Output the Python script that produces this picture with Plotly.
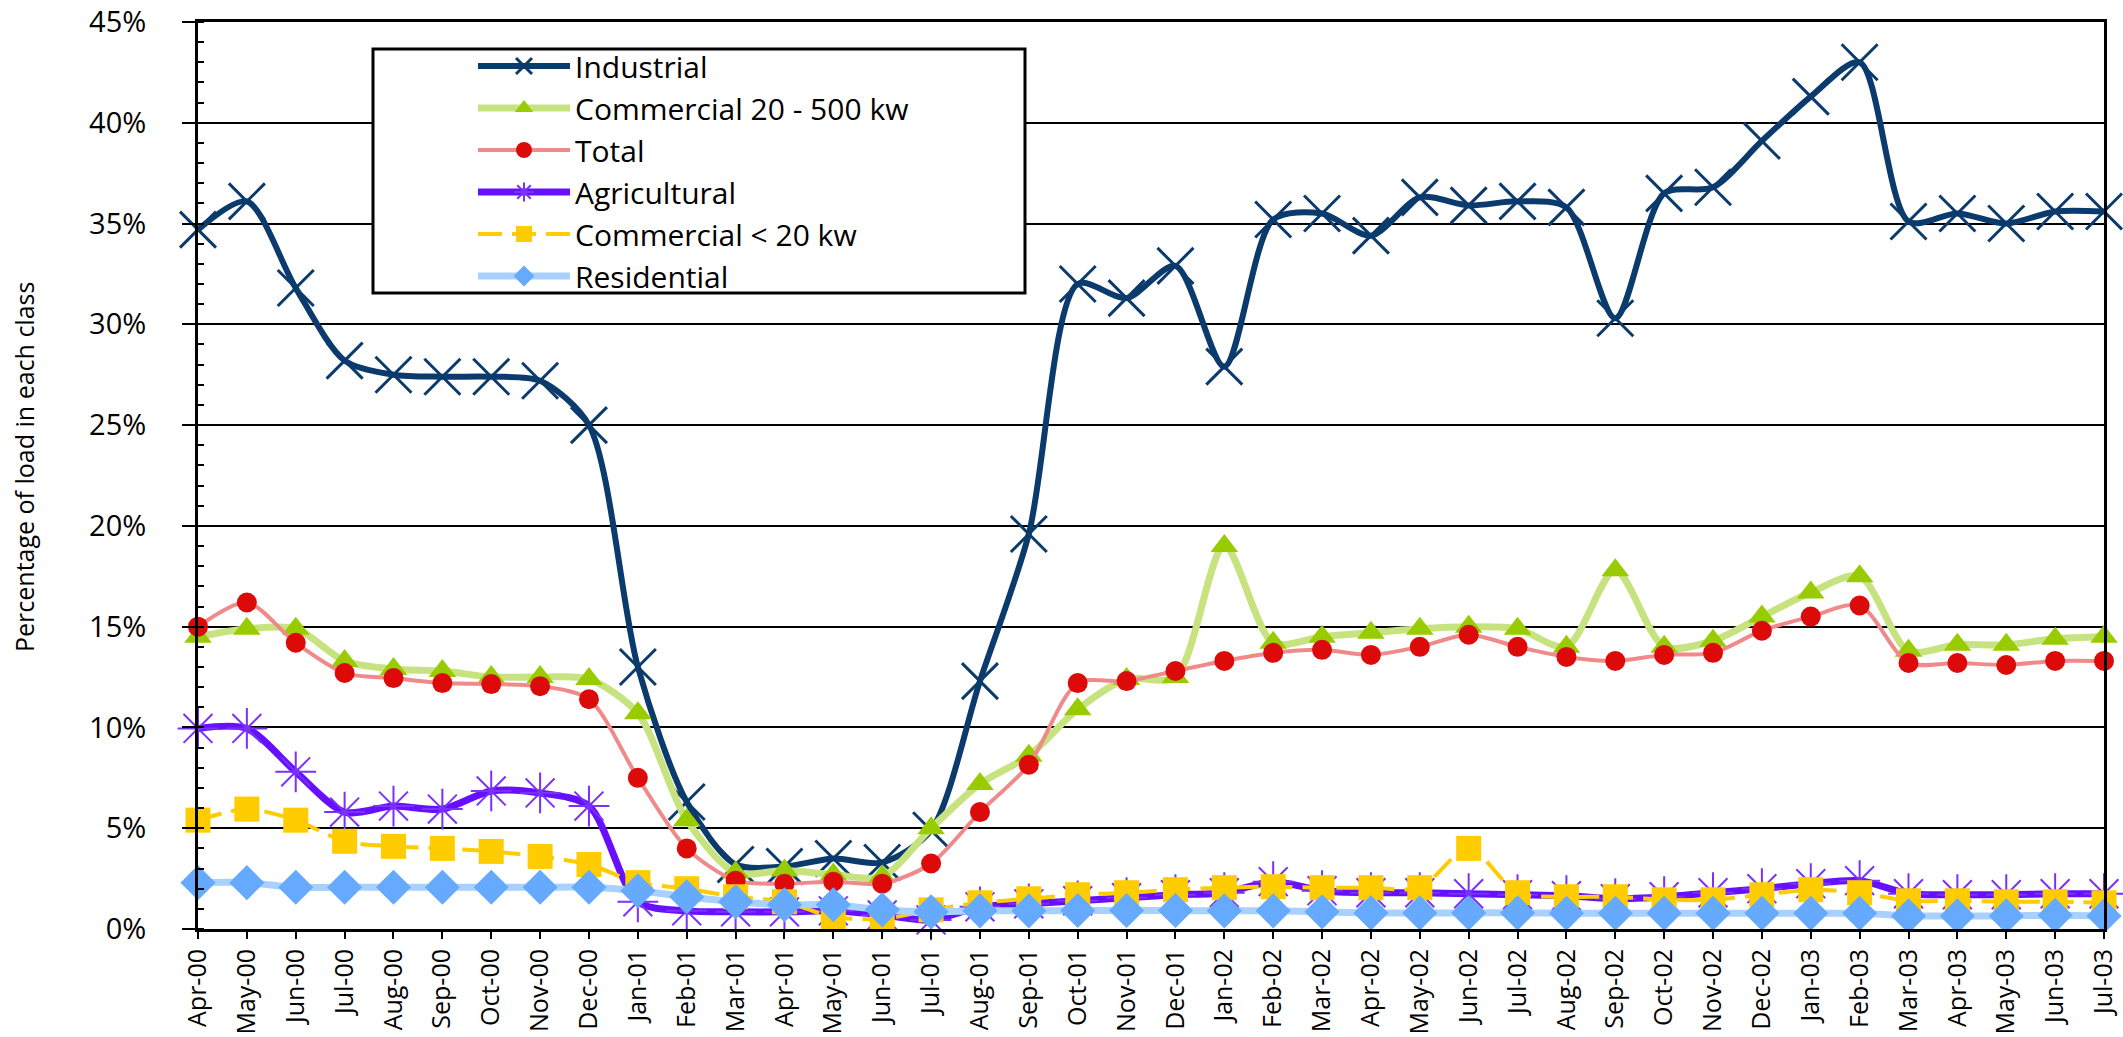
import plotly.graph_objects as go

months = ["Apr-00","May-00","Jun-00","Jul-00","Aug-00","Sep-00","Oct-00","Nov-00","Dec-00",
          "Jan-01","Feb-01","Mar-01","Apr-01","May-01","Jun-01","Jul-01","Aug-01","Sep-01","Oct-01","Nov-01","Dec-01",
          "Jan-02","Feb-02","Mar-02","Apr-02","May-02","Jun-02","Jul-02","Aug-02","Sep-02","Oct-02","Nov-02","Dec-02",
          "Jan-03","Feb-03","Mar-03","Apr-03","May-03","Jun-03","Jul-03"]

industrial = [34.7, 36.1, 31.8, 28.2, 27.5, 27.4, 27.4, 27.2, 25.0,
              13.0, 6.3, 3.2, 3.1, 3.5, 3.3, 4.9, 12.3, 19.6, 32.0, 31.3, 32.9,
              27.9, 35.2, 35.5, 34.4, 36.3, 35.9, 36.1, 35.8, 30.3, 36.5, 36.8, 39.1,
              41.3, 43.0, 35.1, 35.5, 35.0, 35.6, 35.6]

commercial_20_500 = [14.5, 14.9, 14.9, 13.3, 12.9, 12.8, 12.5, 12.5, 12.4,
                     10.7, 5.4, 2.8, 2.9, 2.7, 2.6, 5.0, 7.2, 8.6, 10.9, 12.4, 12.5,
                     19.0, 14.2, 14.5, 14.7, 14.9, 15.0, 14.9, 14.0, 17.8, 14.0, 14.3, 15.5,
                     16.7, 17.5, 13.8, 14.1, 14.1, 14.4, 14.5]

total = [15.0, 16.2, 14.2, 12.7, 12.45, 12.2, 12.15, 12.05, 11.4,
         7.5, 4.0, 2.4, 2.25, 2.35, 2.25, 3.25, 5.8, 8.15, 12.2, 12.3, 12.8,
         13.3, 13.7, 13.85, 13.6, 14.0, 14.6, 14.0, 13.5, 13.3, 13.6, 13.7, 14.8,
         15.5, 16.05, 13.2, 13.2, 13.1, 13.3, 13.3]

agricultural = [9.95, 9.95, 7.8, 5.8, 6.1, 5.95, 6.85, 6.75, 6.1,
                1.35, 0.9, 0.85, 0.85, 0.9, 0.7, 0.45, 1.1, 1.25, 1.4, 1.55, 1.7,
                1.8, 2.35, 1.9, 1.8, 1.8, 1.75, 1.7, 1.65, 1.5, 1.6, 1.8, 2.0,
                2.25, 2.4, 1.75, 1.7, 1.7, 1.75, 1.75]

commercial_lt_20 = [5.4, 5.95, 5.4, 4.35, 4.1, 4.0, 3.85, 3.6, 3.2,
                    2.3, 2.0, 1.6, 1.35, 0.6, 0.5, 0.95, 1.3, 1.5, 1.7, 1.8, 1.95,
                    2.05, 2.1, 2.05, 2.05, 2.05, 4.0, 1.8, 1.6, 1.6, 1.45, 1.45, 1.7,
                    1.95, 1.8, 1.4, 1.4, 1.35, 1.35, 1.3]

residential = [2.3, 2.3, 2.07, 2.07, 2.07, 2.07, 2.07, 2.07, 2.07,
               1.9, 1.6, 1.35, 1.2, 1.2, 0.95, 0.85, 0.9, 0.9, 0.92, 0.92, 0.92,
               0.9, 0.9, 0.85, 0.8, 0.8, 0.8, 0.8, 0.78, 0.78, 0.78, 0.78, 0.78,
               0.78, 0.78, 0.65, 0.65, 0.65, 0.68, 0.65]

series = [
    ("Industrial", industrial, dict(color="#0b3a6c", width=6), dict(symbol="x-thin", size=36, color="#0b3a6c", line=dict(color="#0b3a6c", width=3))),
    ("Commercial 20 - 500 kw", commercial_20_500, dict(color="#c7e37f", width=7), dict(symbol="triangle-up", size=24, color="#99cc00")),
    ("Total", total, dict(color="#f08a8a", width=4), dict(symbol="circle", size=20, color="#dd0a0a")),
    ("Agricultural", agricultural, dict(color="#6610ff", width=7), dict(symbol="asterisk", size=34, color="#7a30ff", line=dict(color="#7a30ff", width=2))),
    ("Commercial < 20 kw", commercial_lt_20, dict(color="#ffcc00", width=4, dash="24px,10px"), dict(symbol="square", size=25, color="#ffcc00")),
    ("Residential", residential, dict(color="#a9d1ff", width=7), dict(symbol="diamond", size=27, color="#66aaff")),
]

fig = go.Figure()
for name, vals, line, marker in series:
    fig.add_trace(go.Scatter(
        x=months, y=vals, name=name, mode="lines+markers",
        line=dict(shape="spline", smoothing=0.8, **line),
        marker=marker, cliponaxis=False, legendgroup=name,
    ))

L, R, T, B = 198, 19, 22, 108
W, H = 2123, 1037
pw, ph = W - L - R, H - T - B

def px(x):
    return (x - L) / pw

def py(y):
    return 1 - (y - T) / ph

fig.add_shape(type="rect", xref="paper", yref="paper",
              x0=px(373), x1=px(1025), y0=py(293), y1=py(49),
              line=dict(color="black", width=3), fillcolor="white", layer="above")

fig.add_annotation(text="Percentage of load in each class", xref="paper", yref="paper",
                   x=px(24), y=py(467), xanchor="center", yanchor="middle",
                   textangle=-90, showarrow=False,
                   font=dict(family="Open Sans", size=25, color="black"))

fig.update_layout(
    width=W, height=H,
    margin=dict(l=L, r=R, t=T, b=B, pad=0, autoexpand=False),
    paper_bgcolor="white", plot_bgcolor="white",
    font=dict(family="Open Sans", color="black"),
    showlegend=True,
    legend=dict(x=px(473), y=py(40), xanchor="left", yanchor="top",
                bgcolor="rgba(0,0,0,0)", borderwidth=0,
                font=dict(family="Open Sans", size=30, color="black"),
                itemwidth=92, tracegroupgap=0, traceorder="normal"),
)

fig.update_xaxes(
    type="category", range=[0, len(months) - 1], automargin=False,
    showline=True, linecolor="black", linewidth=3, mirror=True,
    ticks="outside", ticklen=7, tickwidth=2, tickcolor="black",
    tickangle=-90, tickfont=dict(family="Open Sans", size=25, color="black"),
    showgrid=False, zeroline=False,
)

fig.update_yaxes(
    range=[0, 45], dtick=5, ticksuffix="%", automargin=False,
    showline=True, linecolor="black", linewidth=3, mirror=True,
    ticks="outside", ticklen=13, tickwidth=2, tickcolor="black",
    ticklabelstandoff=30,
    tickfont=dict(family="Open Sans", size=29, color="black"),
    showgrid=True, gridcolor="black", gridwidth=2, zeroline=False,
    minor=dict(dtick=1, ticks="inside", ticklen=6, tickwidth=2, tickcolor="black", showgrid=False),
)

fig.write_html("out.html", config={"displayModeBar": False},
               post_script="document.body.style.margin='0';document.body.style.overflow='hidden';")
